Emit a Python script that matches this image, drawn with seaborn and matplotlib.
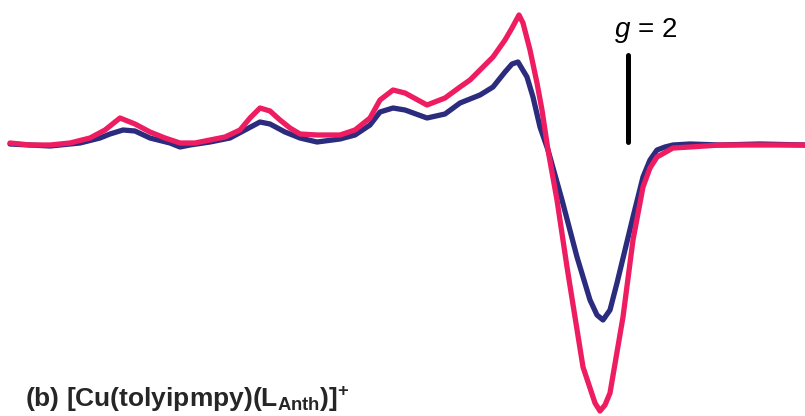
import matplotlib
matplotlib.use("Agg")
import matplotlib.pyplot as plt
import numpy as np
import pandas as pd
import seaborn as sns

# field axis (arbitrary units) and derivative signal (a.u.)
field_blue = [10, 30, 50, 80, 100, 110, 123, 135, 150, 170, 180, 190, 210, 230, 245,
              260, 270, 285, 300, 317, 340, 355, 370, 380, 393, 405, 427, 445, 460, 480,
              493, 505, 512, 518, 527, 533, 540, 548, 562, 577, 590, 597, 603, 610, 617,
              625, 633, 643, 650, 657, 665, 673, 690, 720, 760, 805]
signal_blue = [1, 0, -1, 2, 7, 11, 15, 14, 7, 2, -2, 0, 3, 7, 15,
               23, 21, 13, 7, 3, 6, 10, 20, 33, 37, 35, 27, 31, 42, 50,
               58, 73, 81, 83, 68, 48, 18, -5, -55, -112, -155, -170, -175, -165, -138,
               -105, -72, -32, -15, -5, -2, 0, 1, 0, 1, 0]

field_pink = [10, 30, 50, 70, 90, 105, 120, 135, 150, 165, 180, 195, 210, 225, 240,
              250, 260, 270, 280, 290, 300, 317, 340, 355, 370, 380, 393, 405, 427, 445,
              460, 470, 480, 493, 505, 512, 519, 523, 530, 537, 542, 548, 557, 567, 583,
              595, 600, 605, 610, 623, 633, 643, 650, 657, 673, 690, 720, 760, 805]
signal_pink = [2, 0, 0, 2, 7, 15, 27, 21, 13, 7, 2, 2, 5, 8, 15,
               27, 37, 34, 25, 17, 11, 10, 10, 15, 27, 45, 55, 52, 40, 47,
               58, 65, 75, 88, 105, 117, 130, 122, 95, 62, 35, -5, -55, -122, -222,
               -258, -266, -260, -248, -172, -95, -42, -23, -12, -3, -2, 0, 0, 0]

g2_field = 628
g2_marker = (3, 90)

BLUE = "#2b2c7e"
PINK = "#ee1d62"

sns.set_style("white")
plt.rcParams["font.family"] = ["Liberation Sans", "DejaVu Sans"]
plt.rcParams["mathtext.fontset"] = "custom"
plt.rcParams["mathtext.rm"] = "Liberation Sans"
plt.rcParams["mathtext.it"] = "Liberation Sans:italic"
plt.rcParams["mathtext.bf"] = "Liberation Sans:bold"

df = pd.concat([
    pd.DataFrame({"field": field_blue, "signal": signal_blue, "sample": "blue"}),
    pd.DataFrame({"field": field_pink, "signal": signal_pink, "sample": "pink"}),
])

fig = plt.figure(figsize=(8.05, 4.16), dpi=100)
ax = fig.add_axes([0, 0, 1, 1])
sns.lineplot(data=df, x="field", y="signal", hue="sample",
             palette={"blue": BLUE, "pink": PINK}, sort=False,
             lw=3.8, legend=False, ax=ax, solid_capstyle="round")

ax.plot([g2_field, g2_field], g2_marker, color="black", lw=3.6, solid_capstyle="round")
ax.text(614, 108, "$\\mathit{g}$ = 2", fontsize=20, color="black", va="baseline")

ax.set_xlim(0, 805)
ax.set_ylim(-271, 145)
ax.axis("off")

fig.text(25 / 805, 9 / 416,
         "(b) [Cu(tolyipmpy)(L$_{\\mathbf{Anth}}$)]$^{\\mathbf{+}}$",
         fontsize=19, fontweight="bold", va="baseline", ha="left")

fig.savefig("out.png", dpi=100, facecolor="white")
